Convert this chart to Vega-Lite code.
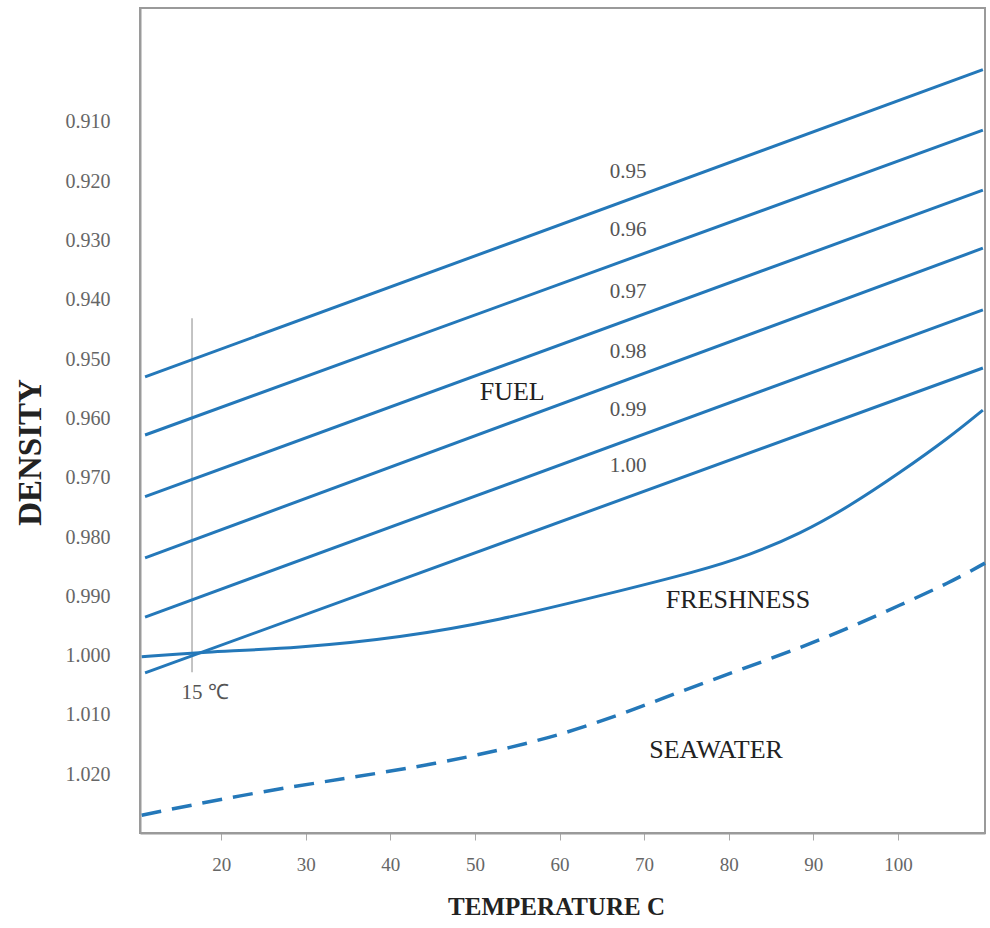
{
  "$schema": "https://vega.github.io/schema/vega-lite/v6.json",
  "width": 845,
  "height": 825,
  "autosize": "none",
  "padding": {"left": 140, "top": 8, "right": 5, "bottom": 95},
  "background": "white",
  "config": {
    "view": {"stroke": "#9a9a9a", "strokeWidth": 2},
    "font": "Liberation Serif"
  },
  "datasets": {
    "curves": [
      {"series": "0.95", "kind": "fuel", "T": 11.0, "d": 0.9530},
      {"series": "0.95", "kind": "fuel", "T": 110.05, "d": 0.9012},
      {"series": "0.96", "kind": "fuel", "T": 11.0, "d": 0.9628},
      {"series": "0.96", "kind": "fuel", "T": 110.05, "d": 0.9114},
      {"series": "0.97", "kind": "fuel", "T": 11.0, "d": 0.9732},
      {"series": "0.97", "kind": "fuel", "T": 110.05, "d": 0.9215},
      {"series": "0.98", "kind": "fuel", "T": 11.0, "d": 0.9835},
      {"series": "0.98", "kind": "fuel", "T": 110.05, "d": 0.9313},
      {"series": "0.99", "kind": "fuel", "T": 11.0, "d": 0.9935},
      {"series": "0.99", "kind": "fuel", "T": 110.05, "d": 0.9417},
      {"series": "1.00", "kind": "fuel", "T": 11.0, "d": 1.0029},
      {"series": "1.00", "kind": "fuel", "T": 110.05, "d": 0.9515},
      {"series": "fresh", "kind": "fresh", "T": 10.6, "d": 1.0002},
      {"series": "fresh", "kind": "fresh", "T": 17.5, "d": 0.9994},
      {"series": "fresh", "kind": "fresh", "T": 29.3, "d": 0.9987},
      {"series": "fresh", "kind": "fresh", "T": 41.1, "d": 0.9970},
      {"series": "fresh", "kind": "fresh", "T": 53.0, "d": 0.9940},
      {"series": "fresh", "kind": "fresh", "T": 64.8, "d": 0.9899},
      {"series": "fresh", "kind": "fresh", "T": 76.6, "d": 0.9857},
      {"series": "fresh", "kind": "fresh", "T": 82.5, "d": 0.9830},
      {"series": "fresh", "kind": "fresh", "T": 88.4, "d": 0.9795},
      {"series": "fresh", "kind": "fresh", "T": 94.3, "d": 0.9748},
      {"series": "fresh", "kind": "fresh", "T": 100.2, "d": 0.9692},
      {"series": "fresh", "kind": "fresh", "T": 106.1, "d": 0.9632},
      {"series": "fresh", "kind": "fresh", "T": 110.05, "d": 0.9586},
      {"series": "sea", "kind": "sea", "T": 10.6, "d": 1.0269},
      {"series": "sea", "kind": "sea", "T": 23.4, "d": 1.0232},
      {"series": "sea", "kind": "sea", "T": 35.2, "d": 1.0206},
      {"series": "sea", "kind": "sea", "T": 45.9, "d": 1.0181},
      {"series": "sea", "kind": "sea", "T": 53.0, "d": 1.0159},
      {"series": "sea", "kind": "sea", "T": 60.0, "d": 1.0134},
      {"series": "sea", "kind": "sea", "T": 67.1, "d": 1.0100},
      {"series": "sea", "kind": "sea", "T": 74.2, "d": 1.0061},
      {"series": "sea", "kind": "sea", "T": 81.3, "d": 1.0024},
      {"series": "sea", "kind": "sea", "T": 88.4, "d": 0.9987},
      {"series": "sea", "kind": "sea", "T": 94.3, "d": 0.9953},
      {"series": "sea", "kind": "sea", "T": 100.2, "d": 0.9915},
      {"series": "sea", "kind": "sea", "T": 106.1, "d": 0.9877},
      {"series": "sea", "kind": "sea", "T": 110.3, "d": 0.9844}
    ],
    "ref": [
      {"T": 16.55, "d": 0.9431, "d2": 1.0028}
    ],
    "numlabels": [
      {"label": "0.95", "T": 68.1, "d": 0.9184},
      {"label": "0.96", "T": 68.1, "d": 0.9282},
      {"label": "0.97", "T": 68.1, "d": 0.9387},
      {"label": "0.98", "T": 68.1, "d": 0.9488},
      {"label": "0.99", "T": 68.1, "d": 0.9586},
      {"label": "1.00", "T": 68.1, "d": 0.9680},
      {"label": "15 ℃", "T": 18.1, "d": 1.0063}
    ],
    "words": [
      {"label": "FUEL", "T": 54.4, "d": 0.9555},
      {"label": "FRESHNESS", "T": 81.1, "d": 0.9906},
      {"label": "SEAWATER", "T": 78.5, "d": 1.0159}
    ]
  },
  "encoding": {
    "x": {
      "field": "T",
      "type": "quantitative",
      "scale": {"domain": [10.4, 110.3], "nice": false, "zero": false},
      "axis": {
        "title": "TEMPERATURE  C",
        "values": [20, 30, 40, 50, 60, 70, 80, 90, 100],
        "grid": false,
        "domainColor": "#9a9a9a",
        "domainWidth": 2,
        "tickColor": "#aaaaaa",
        "tickSize": 7,
        "labelPadding": 15,
        "labelFont": "Liberation Serif",
        "labelFontSize": 19,
        "labelColor": "#666666",
        "titleFont": "Liberation Serif",
        "titleFontSize": 25,
        "titleFontWeight": "bold",
        "titleColor": "#222222",
        "titlePadding": 20,
        "titleX": 416
      }
    },
    "y": {
      "field": "d",
      "type": "quantitative",
      "scale": {"domain": [0.8908, 1.0299], "reverse": true, "nice": false, "zero": false},
      "axis": {
        "title": "DENSITY",
        "values": [0.91, 0.92, 0.93, 0.94, 0.95, 0.96, 0.97, 0.98, 0.99, 1.0, 1.01, 1.02],
        "format": ".3f",
        "grid": false,
        "ticks": false,
        "tickSize": 0,
        "domainColor": "#9a9a9a",
        "domainWidth": 2,
        "labelPadding": 30,
        "labelFont": "Liberation Serif",
        "labelFontSize": 20,
        "labelColor": "#666666",
        "titleFont": "Liberation Serif",
        "titleFontSize": 33,
        "titleFontWeight": "bold",
        "titleColor": "#222222",
        "titlePadding": 18,
        "titleY": 444
      }
    }
  },
  "layer": [
    {
      "data": {"name": "ref"},
      "mark": {"type": "rule", "color": "#b0b0b0", "strokeWidth": 1.5},
      "encoding": {"y2": {"field": "d2"}}
    },
    {
      "data": {"name": "curves"},
      "transform": [{"filter": "datum.kind === 'fuel'"}],
      "mark": {"type": "line", "color": "#2478b9", "strokeWidth": 3},
      "encoding": {"detail": {"field": "series"}}
    },
    {
      "data": {"name": "curves"},
      "transform": [{"filter": "datum.kind === 'fresh'"}],
      "mark": {"type": "line", "color": "#2478b9", "strokeWidth": 3, "interpolate": "basis"},
      "encoding": {}
    },
    {
      "data": {"name": "curves"},
      "transform": [{"filter": "datum.kind === 'sea'"}],
      "mark": {"type": "line", "color": "#2478b9", "strokeWidth": 3.5, "interpolate": "basis", "strokeDash": [20, 11]},
      "encoding": {}
    },
    {
      "data": {"name": "numlabels"},
      "mark": {"type": "text", "font": "Liberation Serif", "fontSize": 21, "color": "#555555"},
      "encoding": {"text": {"field": "label"}}
    },
    {
      "data": {"name": "words"},
      "mark": {"type": "text", "font": "Liberation Serif", "fontSize": 26, "color": "#222222"},
      "encoding": {"text": {"field": "label"}}
    }
  ]
}
